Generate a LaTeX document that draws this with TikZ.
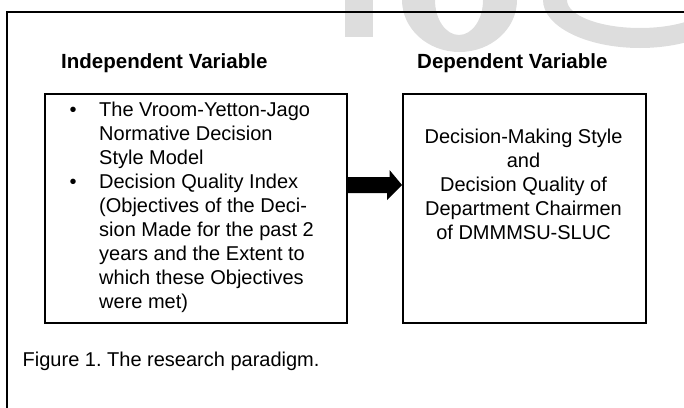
\documentclass[tikz,border=0pt]{standalone}
\usepackage{fontspec}
\setmainfont{Liberation Sans}
\usetikzlibrary{calc}
\definecolor{wmgray}{HTML}{DDDDDD}
\frenchspacing
\begin{document}
\begin{tikzpicture}[x=1pt,y=-1pt,
  frame/.style={line width=2pt},
  varbox/.style={draw, line width=2pt, inner sep=0pt},
  heading/.style={anchor=base west, inner sep=0pt, font=\fontsize{20.5}{24}\selectfont\bfseries},
  body/.style={inner sep=0pt, font=\fontsize{20}{24}\selectfont}]
\useasboundingbox (0,0) rectangle (684,407);
\begin{scope}
  \clip (0,0) rectangle (684,407);
  % light grey letters behind the frame
  \fill[wmgray] (345,-5) rectangle (373,37);
  \fill[wmgray, even odd rule] (459.5,0) ellipse [x radius=57.5, y radius=52]
                               (459,0) ellipse [x radius=24, y radius=35];
  \fill[wmgray, even odd rule] (640,0) ellipse [x radius=97, y radius=48]
                               (640,0) ellipse [x radius=73, y radius=28];
  % outer frame (open to the right and bottom)
  \draw[frame] (7,420) -- (7,12) -- (700,12);
\end{scope}

\node[heading] (ivhead) at (61,68) {Independent Variable};
\node[heading] (dvhead) at (417,68) {Dependent Variable};

\node[varbox, minimum width=301.5, minimum height=229, anchor=north west] (ivbox) at (44,93) {};
\node[varbox, minimum width=243, minimum height=229, anchor=north west] (dvbox) at (402,93) {};

\node[body, anchor=base west] (ivlist) at (69.5,116) {%
  \begin{tabular}[t]{@{}p{29.5pt}@{}l@{}}
  \textbullet & The Vroom-Yetton-Jago\\
              & Normative Decision\\
              & Style Model\\
  \textbullet & Decision Quality Index\\
              & (Objectives of the Deci-\\
              & sion Made for the past 2\\
              & years and the Extent to\\
              & which these Objectives\\
              & were met)
  \end{tabular}};

\node[body, anchor=base] (dvtext) at (523.5,143) {%
  \begin{tabular}[t]{@{}c@{}}
  Decision-Making Style\\
  and\\
  Decision Quality of\\
  Department Chairmen\\
  of DMMMSU-SLUC
  \end{tabular}};

% block arrow from the independent to the dependent variable
\coordinate (from) at (ivbox.east |- 0,185);
\coordinate (to) at (dvbox.west |- 0,185);
\fill (from) ++(0,-8) -- ++(42,0) -- ++(0,-7) -- (to) -- ($(to)+(-15,15)$)
      -- ++(0,-7) -- ($(from)+(0,8)$) -- cycle;

\node[body, anchor=base west] (caption) at (22.5,366) {Figure 1. The research paradigm.};
\end{tikzpicture}
\end{document}
